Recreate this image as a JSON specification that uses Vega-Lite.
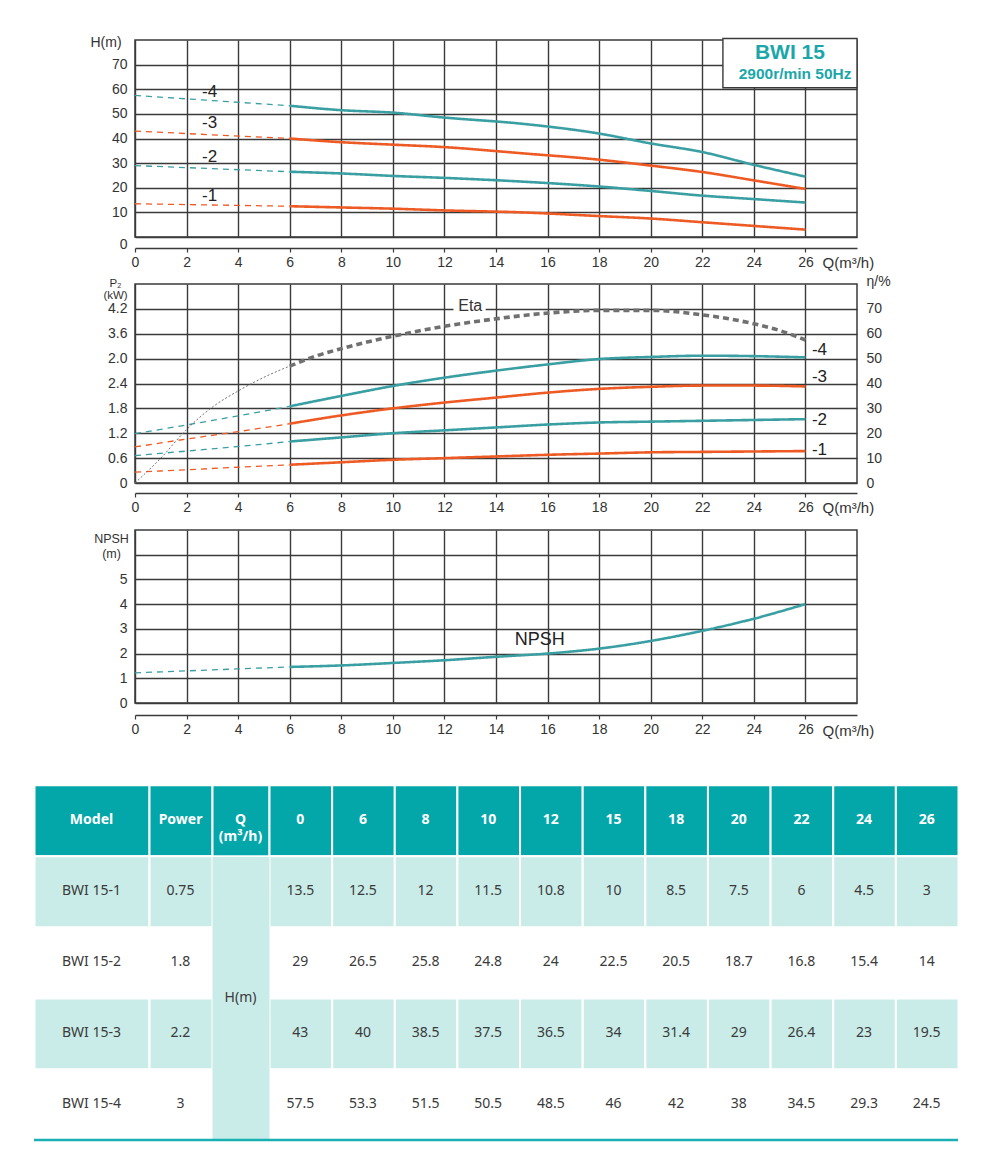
{
"$schema": "https://vega.github.io/schema/vega-lite/v6.json",
"background": "white",
"padding": {"left": 32, "top": 34, "right": 40, "bottom": 20},
"config": {
  "view": {"stroke": "#3a3a3a", "strokeWidth": 1.5},
  "axis": {"gridColor": "#3a3a3a", "gridWidth": 1.4, "gridOpacity": 1, "labelColor": "#333", "labelFont": "Liberation Sans", "labelFontSize": 14, "labelFlush": false, "labelOverlap": false, "titleFont": "Liberation Sans", "titleFontWeight": "normal", "titleColor": "#333", "titleFontSize": 14, "domainColor": "#3a3a3a", "tickColor": "#3a3a3a"},
  "text": {"font": "Liberation Sans"}
},
"datasets": {
  "hq": [
    {"m":"-1","p":"e","q":0,"h":13.5},{"m":"-1","p":"e","q":6,"h":12.5},
    {"m":"-1","p":"s","q":6,"h":12.5},{"m":"-1","p":"s","q":8,"h":12},{"m":"-1","p":"s","q":10,"h":11.5},{"m":"-1","p":"s","q":12,"h":10.8},{"m":"-1","p":"s","q":15,"h":10},{"m":"-1","p":"s","q":18,"h":8.5},{"m":"-1","p":"s","q":20,"h":7.5},{"m":"-1","p":"s","q":22,"h":6},{"m":"-1","p":"s","q":24,"h":4.5},{"m":"-1","p":"s","q":26,"h":3},
    {"m":"-2","p":"e","q":0,"h":29},{"m":"-2","p":"e","q":6,"h":26.5},
    {"m":"-2","p":"s","q":6,"h":26.5},{"m":"-2","p":"s","q":8,"h":25.8},{"m":"-2","p":"s","q":10,"h":24.8},{"m":"-2","p":"s","q":12,"h":24},{"m":"-2","p":"s","q":15,"h":22.5},{"m":"-2","p":"s","q":18,"h":20.5},{"m":"-2","p":"s","q":20,"h":18.7},{"m":"-2","p":"s","q":22,"h":16.8},{"m":"-2","p":"s","q":24,"h":15.4},{"m":"-2","p":"s","q":26,"h":14},
    {"m":"-3","p":"e","q":0,"h":43},{"m":"-3","p":"e","q":6,"h":40},
    {"m":"-3","p":"s","q":6,"h":40},{"m":"-3","p":"s","q":8,"h":38.5},{"m":"-3","p":"s","q":10,"h":37.5},{"m":"-3","p":"s","q":12,"h":36.5},{"m":"-3","p":"s","q":15,"h":34},{"m":"-3","p":"s","q":18,"h":31.4},{"m":"-3","p":"s","q":20,"h":29},{"m":"-3","p":"s","q":22,"h":26.4},{"m":"-3","p":"s","q":24,"h":23},{"m":"-3","p":"s","q":26,"h":19.5},
    {"m":"-4","p":"e","q":0,"h":57.5},{"m":"-4","p":"e","q":6,"h":53.3},
    {"m":"-4","p":"s","q":6,"h":53.3},{"m":"-4","p":"s","q":8,"h":51.5},{"m":"-4","p":"s","q":10,"h":50.5},{"m":"-4","p":"s","q":12,"h":48.5},{"m":"-4","p":"s","q":15,"h":46},{"m":"-4","p":"s","q":18,"h":42},{"m":"-4","p":"s","q":20,"h":38},{"m":"-4","p":"s","q":22,"h":34.5},{"m":"-4","p":"s","q":24,"h":29.3},{"m":"-4","p":"s","q":26,"h":24.5}
  ],
  "lab1": [{"q":2.6,"h":58.7,"t":"-4"},{"q":2.6,"h":46.1,"t":"-3"},{"q":2.6,"h":32.5,"t":"-2"},{"q":2.6,"h":16.5,"t":"-1"}],
  "pw": [
    {"m":"-1","p":"e","q":0,"k":0.26},{"m":"-1","p":"e","q":2,"k":0.32},{"m":"-1","p":"e","q":4,"k":0.38},{"m":"-1","p":"e","q":6,"k":0.44},
    {"m":"-1","p":"s","q":6,"k":0.44},{"m":"-1","p":"s","q":8,"k":0.5},{"m":"-1","p":"s","q":10,"k":0.56},{"m":"-1","p":"s","q":12,"k":0.6},{"m":"-1","p":"s","q":14,"k":0.64},{"m":"-1","p":"s","q":16,"k":0.68},{"m":"-1","p":"s","q":18,"k":0.71},{"m":"-1","p":"s","q":20,"k":0.74},{"m":"-1","p":"s","q":22,"k":0.75},{"m":"-1","p":"s","q":24,"k":0.76},{"m":"-1","p":"s","q":26,"k":0.77},
    {"m":"-2","p":"e","q":0,"k":0.66},{"m":"-2","p":"e","q":2,"k":0.77},{"m":"-2","p":"e","q":4,"k":0.88},{"m":"-2","p":"e","q":6,"k":1.0},
    {"m":"-2","p":"s","q":6,"k":1.0},{"m":"-2","p":"s","q":8,"k":1.1},{"m":"-2","p":"s","q":10,"k":1.2},{"m":"-2","p":"s","q":12,"k":1.27},{"m":"-2","p":"s","q":14,"k":1.34},{"m":"-2","p":"s","q":16,"k":1.41},{"m":"-2","p":"s","q":18,"k":1.46},{"m":"-2","p":"s","q":20,"k":1.48},{"m":"-2","p":"s","q":22,"k":1.5},{"m":"-2","p":"s","q":24,"k":1.52},{"m":"-2","p":"s","q":26,"k":1.54},
    {"m":"-3","p":"e","q":0,"k":0.87},{"m":"-3","p":"e","q":2,"k":1.06},{"m":"-3","p":"e","q":4,"k":1.24},{"m":"-3","p":"e","q":6,"k":1.43},
    {"m":"-3","p":"s","q":6,"k":1.43},{"m":"-3","p":"s","q":8,"k":1.63},{"m":"-3","p":"s","q":10,"k":1.8},{"m":"-3","p":"s","q":12,"k":1.94},{"m":"-3","p":"s","q":14,"k":2.06},{"m":"-3","p":"s","q":16,"k":2.18},{"m":"-3","p":"s","q":18,"k":2.27},{"m":"-3","p":"s","q":20,"k":2.32},{"m":"-3","p":"s","q":22,"k":2.35},{"m":"-3","p":"s","q":24,"k":2.35},{"m":"-3","p":"s","q":26,"k":2.33},
    {"m":"-4","p":"e","q":0,"k":1.19},{"m":"-4","p":"e","q":2,"k":1.4},{"m":"-4","p":"e","q":4,"k":1.62},{"m":"-4","p":"e","q":6,"k":1.85},
    {"m":"-4","p":"s","q":6,"k":1.85},{"m":"-4","p":"s","q":8,"k":2.1},{"m":"-4","p":"s","q":10,"k":2.34},{"m":"-4","p":"s","q":12,"k":2.54},{"m":"-4","p":"s","q":14,"k":2.71},{"m":"-4","p":"s","q":16,"k":2.86},{"m":"-4","p":"s","q":18,"k":2.99},{"m":"-4","p":"s","q":20,"k":3.04},{"m":"-4","p":"s","q":22,"k":3.07},{"m":"-4","p":"s","q":24,"k":3.06},{"m":"-4","p":"s","q":26,"k":3.03}
  ],
  "lab2": [{"q":26.25,"k":3.2,"t":"-4"},{"q":26.25,"k":2.56,"t":"-3"},{"q":26.25,"k":1.53,"t":"-2"},{"q":26.25,"k":0.79,"t":"-1"}],
  "eta": [
    {"p":"e","q":0,"e":0},{"p":"e","q":1,"e":10},{"p":"e","q":2,"e":21.5},{"p":"e","q":3,"e":30.5},{"p":"e","q":4,"e":37},{"p":"e","q":5,"e":42.5},{"p":"e","q":6,"e":47},
    {"p":"s","q":6,"e":47},{"p":"s","q":7,"e":51},{"p":"s","q":8,"e":54},{"p":"s","q":10,"e":59},{"p":"s","q":12,"e":63},{"p":"s","q":14,"e":66},{"p":"s","q":16,"e":68.3},{"p":"s","q":18,"e":69.4},{"p":"s","q":20,"e":69.4},{"p":"s","q":22,"e":67.6},{"p":"s","q":24,"e":64},{"p":"s","q":25,"e":61.3},{"p":"s","q":26,"e":57.5}
  ],
  "npsh": [
    {"p":"e","q":0,"n":1.22},{"p":"e","q":2,"n":1.3},{"p":"e","q":4,"n":1.38},{"p":"e","q":6,"n":1.46},
    {"p":"s","q":6,"n":1.46},{"p":"s","q":8,"n":1.52},{"p":"s","q":10,"n":1.62},{"p":"s","q":12,"n":1.73},{"p":"s","q":14,"n":1.87},{"p":"s","q":16,"n":2.0},{"p":"s","q":18,"n":2.2},{"p":"s","q":20,"n":2.51},{"p":"s","q":22,"n":2.92},{"p":"s","q":24,"n":3.41},{"p":"s","q":26,"n":4.0}
  ],
  "tbl": [
    {"c":"Model","i":0,"r":0,"t":"Model"},{"c":"Model","i":0,"r":1,"t":"BWI 15-1"},{"c":"Model","i":0,"r":2,"t":"BWI 15-2"},{"c":"Model","i":0,"r":3,"t":"BWI 15-3"},{"c":"Model","i":0,"r":4,"t":"BWI 15-4"},
    {"c":"Power","i":1,"r":0,"t":"Power"},{"c":"Power","i":1,"r":1,"t":"0.75"},{"c":"Power","i":1,"r":2,"t":"1.8"},{"c":"Power","i":1,"r":3,"t":"2.2"},{"c":"Power","i":1,"r":4,"t":"3"},
    {"c":"Q","i":2,"r":0,"t":"Q\n(m³/h)"},{"c":"Q","i":2,"r":1,"t":""},{"c":"Q","i":2,"r":2,"t":""},{"c":"Q","i":2,"r":3,"t":""},{"c":"Q","i":2,"r":4,"t":""},
    {"c":"0","i":3,"r":0,"t":"0"},{"c":"0","i":3,"r":1,"t":"13.5"},{"c":"0","i":3,"r":2,"t":"29"},{"c":"0","i":3,"r":3,"t":"43"},{"c":"0","i":3,"r":4,"t":"57.5"},
    {"c":"6","i":4,"r":0,"t":"6"},{"c":"6","i":4,"r":1,"t":"12.5"},{"c":"6","i":4,"r":2,"t":"26.5"},{"c":"6","i":4,"r":3,"t":"40"},{"c":"6","i":4,"r":4,"t":"53.3"},
    {"c":"8","i":5,"r":0,"t":"8"},{"c":"8","i":5,"r":1,"t":"12"},{"c":"8","i":5,"r":2,"t":"25.8"},{"c":"8","i":5,"r":3,"t":"38.5"},{"c":"8","i":5,"r":4,"t":"51.5"},
    {"c":"10","i":6,"r":0,"t":"10"},{"c":"10","i":6,"r":1,"t":"11.5"},{"c":"10","i":6,"r":2,"t":"24.8"},{"c":"10","i":6,"r":3,"t":"37.5"},{"c":"10","i":6,"r":4,"t":"50.5"},
    {"c":"12","i":7,"r":0,"t":"12"},{"c":"12","i":7,"r":1,"t":"10.8"},{"c":"12","i":7,"r":2,"t":"24"},{"c":"12","i":7,"r":3,"t":"36.5"},{"c":"12","i":7,"r":4,"t":"48.5"},
    {"c":"15","i":8,"r":0,"t":"15"},{"c":"15","i":8,"r":1,"t":"10"},{"c":"15","i":8,"r":2,"t":"22.5"},{"c":"15","i":8,"r":3,"t":"34"},{"c":"15","i":8,"r":4,"t":"46"},
    {"c":"18","i":9,"r":0,"t":"18"},{"c":"18","i":9,"r":1,"t":"8.5"},{"c":"18","i":9,"r":2,"t":"20.5"},{"c":"18","i":9,"r":3,"t":"31.4"},{"c":"18","i":9,"r":4,"t":"42"},
    {"c":"20","i":10,"r":0,"t":"20"},{"c":"20","i":10,"r":1,"t":"7.5"},{"c":"20","i":10,"r":2,"t":"18.7"},{"c":"20","i":10,"r":3,"t":"29"},{"c":"20","i":10,"r":4,"t":"38"},
    {"c":"22","i":11,"r":0,"t":"22"},{"c":"22","i":11,"r":1,"t":"6"},{"c":"22","i":11,"r":2,"t":"16.8"},{"c":"22","i":11,"r":3,"t":"26.4"},{"c":"22","i":11,"r":4,"t":"34.5"},
    {"c":"24","i":12,"r":0,"t":"24"},{"c":"24","i":12,"r":1,"t":"4.5"},{"c":"24","i":12,"r":2,"t":"15.4"},{"c":"24","i":12,"r":3,"t":"23"},{"c":"24","i":12,"r":4,"t":"29.3"},
    {"c":"26","i":13,"r":0,"t":"26"},{"c":"26","i":13,"r":1,"t":"3"},{"c":"26","i":13,"r":2,"t":"14"},{"c":"26","i":13,"r":3,"t":"19.5"},{"c":"26","i":13,"r":4,"t":"24.5"}
  ]
},
"vconcat": [
  {
    "width": 722, "height": 197,
    "layer": [
      {
        "data": {"name": "hq"},
        "mark": {"type": "line", "interpolate": "monotone"},
        "encoding": {
          "x": {"field": "q", "type": "quantitative", "scale": {"domain": [0, 28], "nice": false, "zero": false},
            "axis": {"values": [0,2,4,6,8,10,12,14,16,18,20,22,24,26], "tickCount": 30, "offset": 11, "grid": true, "domain": true, "domainWidth": 1.4, "ticks": true, "tickSize": 4, "tickWidth": 1.2, "labelPadding": 3, "title": "Q(m³/h)", "titleFontSize": 15, "titleX": 687, "titleY": 14, "titleAlign": "left", "titleBaseline": "middle", "titleAngle": 0}},
          "y": {"field": "h", "type": "quantitative", "scale": {"domain": [0, 80], "nice": false},
            "axis": {"values": [0,10,20,30,40,50,60,70], "tickCount": 30, "domain": false, "ticks": false, "labelPadding": 8, "labelOffset": {"condition": {"test": "datum.value == 0", "value": 7}, "value": 0}, "title": "H(m)", "titleAngle": 0, "titleX": -45, "titleY": 2, "titleAlign": "left", "titleBaseline": "middle"}},
          "color": {"field": "m", "type": "nominal", "scale": {"domain": ["-1","-2","-3","-4"], "range": ["#EE5A24","#3A9FA3","#EE5A24","#3A9FA3"]}, "legend": null},
          "detail": {"field": "p"},
          "strokeDash": {"field": "p", "type": "nominal", "scale": {"domain": ["e","s"], "range": [[6,5],[1,0]]}, "legend": null},
          "strokeWidth": {"field": "p", "type": "nominal", "scale": {"domain": ["e","s"], "range": [1.3, 2.6]}, "legend": null}
        }
      },
      {
        "data": {"name": "lab1"},
        "mark": {"type": "text", "align": "left", "baseline": "middle", "fontSize": 17, "color": "#222"},
        "encoding": {"x": {"field": "q", "type": "quantitative"}, "y": {"field": "h", "type": "quantitative"}, "text": {"field": "t"}}
      },
      {
        "data": {"values": [{"t": "box"}]},
        "mark": {"type": "rect", "fill": "white", "stroke": "#3a3a3a", "strokeWidth": 1.4},
        "encoding": {"x": {"datum": 22.8}, "x2": {"datum": 28}, "y": {"datum": 60.6}, "y2": {"datum": 80.6}}
      },
      {
        "data": {"values": [{"q": 25.4, "h": 74.8, "t": "BWI 15", "s": 21}, {"q": 25.6, "h": 66.3, "t": "2900r/min 50Hz", "s": 15.5}]},
        "mark": {"type": "text", "align": "center", "baseline": "middle", "fontWeight": "bold", "color": "#1BA7AA"},
        "encoding": {"x": {"field": "q", "type": "quantitative"}, "y": {"field": "h", "type": "quantitative"}, "text": {"field": "t"}, "size": {"field": "s", "type": "quantitative", "scale": null}}
      }
    ]
  },
  {
    "width": 722, "height": 199,
    "resolve": {"scale": {"y": "independent"}},
    "layer": [
      {
        "layer": [
          {
            "data": {"name": "pw"},
            "mark": {"type": "line", "interpolate": "monotone"},
            "encoding": {
              "x": {"field": "q", "type": "quantitative", "scale": {"domain": [0, 28], "nice": false, "zero": false},
                "axis": {"values": [0,2,4,6,8,10,12,14,16,18,20,22,24,26], "tickCount": 30, "offset": 10, "grid": true, "domain": true, "domainWidth": 1.4, "ticks": true, "tickSize": 4, "tickWidth": 1.2, "labelPadding": 3, "title": "Q(m³/h)", "titleFontSize": 15, "titleX": 687, "titleY": 14, "titleAlign": "left", "titleBaseline": "middle", "titleAngle": 0}},
              "y": {"field": "k", "type": "quantitative", "scale": {"domain": [0, 4.8], "nice": false},
                "axis": {"values": [0,0.6,1.2,1.8,2.4,3.0,3.6,4.2], "tickCount": 30, "labelExpr": "datum.value == 0 ? '0' : abs(datum.value - 3) < 0.01 ? '2.0' : format(datum.value, '.1f')", "domain": false, "ticks": false, "labelPadding": 8, "title": ["P₂", "(kW)"], "titleAngle": 0, "titleX": -20, "titleY": -7, "titleAlign": "center", "titleBaseline": "top", "titleFontSize": 11.5, "titleLineHeight": 12.5}},
              "color": {"field": "m", "type": "nominal", "scale": {"domain": ["-1","-2","-3","-4"], "range": ["#EE5A24","#3A9FA3","#EE5A24","#3A9FA3"]}, "legend": null},
              "detail": {"field": "p"},
              "strokeDash": {"field": "p", "type": "nominal", "scale": {"domain": ["e","s"], "range": [[4,3],[1,0]]}, "legend": null},
              "strokeWidth": {"field": "p", "type": "nominal", "scale": {"domain": ["e","s"], "range": [1.2, 2.6]}, "legend": null}
            }
          },
          {
            "data": {"name": "lab2"},
            "mark": {"type": "text", "align": "left", "baseline": "middle", "fontSize": 17, "color": "#222"},
            "encoding": {"x": {"field": "q", "type": "quantitative"}, "y": {"field": "k", "type": "quantitative"}, "text": {"field": "t"}}
          }
        ]
      },
      {
        "layer": [
          {
            "data": {"name": "eta"},
            "transform": [{"filter": "datum.p == 'e'"}],
            "mark": {"type": "line", "interpolate": "monotone", "color": "#707070", "strokeWidth": 1, "strokeDash": [2, 2]},
            "encoding": {
              "x": {"field": "q", "type": "quantitative"},
              "y": {"field": "e", "type": "quantitative", "scale": {"domain": [0, 80], "nice": false},
                "axis": {"orient": "right", "values": [0,10,20,30,40,50,60,70], "tickCount": 30, "grid": false, "domain": false, "ticks": false, "labelPadding": 9, "title": "η/%", "titleAngle": 0, "titleX": 9, "titleY": -3, "titleAlign": "left", "titleBaseline": "middle"}}
            }
          },
          {
            "data": {"name": "eta"},
            "transform": [{"filter": "datum.p == 's'"}],
            "mark": {"type": "line", "interpolate": "monotone", "color": "#707070", "strokeWidth": 3.6, "strokeDash": [6, 4]},
            "encoding": {"x": {"field": "q", "type": "quantitative"}, "y": {"field": "e", "type": "quantitative"}}
          },
          {
            "data": {"values": [{"t": "bg"}]},
            "mark": {"type": "rect", "fill": "white"},
            "encoding": {"x": {"datum": 12.35}, "x2": {"datum": 13.6}, "y": {"datum": 68}, "y2": {"datum": 74}}
          },
          {
            "data": {"values": [{"q": 13.0, "e": 71.3, "t": "Eta"}]},
            "mark": {"type": "text", "align": "center", "baseline": "middle", "fontSize": 16, "color": "#333"},
            "encoding": {"x": {"field": "q", "type": "quantitative"}, "y": {"field": "e", "type": "quantitative"}, "text": {"field": "t"}}
          }
        ]
      }
    ]
  },
  {
    "width": 722, "height": 173,
    "layer": [
      {
        "data": {"name": "npsh"},
        "mark": {"type": "line", "interpolate": "monotone", "color": "#3A9FA3"},
        "encoding": {
          "x": {"field": "q", "type": "quantitative", "scale": {"domain": [0, 28], "nice": false, "zero": false},
            "axis": {"values": [0,2,4,6,8,10,12,14,16,18,20,22,24,26], "tickCount": 30, "offset": 12, "grid": true, "domain": true, "domainWidth": 1.4, "ticks": true, "tickSize": 4, "tickWidth": 1.2, "labelPadding": 3, "title": "Q(m³/h)", "titleFontSize": 15, "titleX": 687, "titleY": 15, "titleAlign": "left", "titleBaseline": "middle", "titleAngle": 0}},
          "y": {"field": "n", "type": "quantitative", "scale": {"domain": [0, 7], "nice": false},
            "axis": {"values": [0,1,2,3,4,5,6], "tickCount": 30, "labelExpr": "datum.value == 6 ? '' : format(datum.value, 'd')", "domain": false, "ticks": false, "labelPadding": 8, "title": ["NPSH", "(m)"], "titleAngle": 0, "titleX": -24, "titleY": 2, "titleAlign": "center", "titleBaseline": "top", "titleFontSize": 12.5, "titleLineHeight": 15}},
          "detail": {"field": "p"},
          "strokeDash": {"field": "p", "type": "nominal", "scale": {"domain": ["e","s"], "range": [[7,5],[1,0]]}, "legend": null},
          "strokeWidth": {"field": "p", "type": "nominal", "scale": {"domain": ["e","s"], "range": [1.4, 2.8]}, "legend": null}
        }
      },
      {
        "data": {"values": [{"q": 15.7, "n": 2.54, "t": "NPSH"}]},
        "mark": {"type": "text", "align": "center", "baseline": "middle", "fontSize": 18, "color": "#222"},
        "encoding": {"x": {"field": "q", "type": "quantitative"}, "y": {"field": "n", "type": "quantitative"}, "text": {"field": "t"}}
      }
    ]
  },
  {
    "width": 924, "height": 390, "view": {"stroke": null},
    "layer": [
      {"data": {"name": "tbl"}, "transform": [{"filter": "datum.i != 2 || datum.r == 0"}], "mark": {"type": "rect", "stroke": "white", "strokeWidth": 2},
       "encoding": {
         "x": {"field": "i", "type": "quantitative", "bin": {"step": 1, "extent": [0, 14]}, "scale": {"domain": [0, 1, 2, 3, 14], "range": [0, 115, 178, 235, 924], "nice": false, "zero": false}, "axis": null},
         "y": {"field": "r", "type": "quantitative", "bin": {"step": 1, "extent": [0, 5]}, "scale": {"domain": [-0.49, 5], "reverse": true, "nice": false, "zero": false}, "axis": null},
         "fill": {"condition": [{"test": "datum.r == 0", "value": "#04A7A9"}, {"test": "datum.r == 1 || datum.r == 3", "value": "#C9ECE8"}], "value": "#FFFFFF"}}},
      {"data": {"name": "tbl"}, "transform": [{"filter": "datum.i == 2 && datum.r == 1"}], "mark": {"type": "rect", "fill": "#C9ECE8"},
       "encoding": {
         "x": {"field": "i", "type": "quantitative", "bin": {"step": 1, "extent": [0, 14]}},
         "y": {"datum": 1.015}, "y2": {"datum": 5}}},
      {"data": {"name": "tbl"}, "transform": [{"filter": "datum.r == 0"}], "mark": {"type": "text", "font": "Noto Sans", "fontSize": 14, "fontWeight": "bold", "color": "white", "lineBreak": "\n", "lineHeight": 17},
       "encoding": {
         "x": {"field": "i", "type": "quantitative", "bin": {"step": 1, "extent": [0, 14]}},
         "y": {"field": "r", "type": "quantitative", "bin": {"step": 1, "extent": [0, 5]}},
         "text": {"field": "t"}}},
      {"data": {"name": "tbl"}, "transform": [{"filter": "datum.r > 0"}], "mark": {"type": "text", "font": "Noto Sans", "fontSize": 14, "color": "#3a3a3a"},
       "encoding": {
         "x": {"field": "i", "type": "quantitative", "bin": {"step": 1, "extent": [0, 14]}},
         "y": {"field": "r", "type": "quantitative", "bin": {"step": 1, "extent": [0, 5]}},
         "text": {"field": "t"}}},
      {"data": {"values": [{"t": "H(m)"}]}, "mark": {"type": "text", "font": "Noto Sans", "fontSize": 14, "color": "#3a3a3a"},
       "encoding": {"x": {"datum": 2.5}, "y": {"datum": 3}, "text": {"field": "t"}}},
      {"data": {"values": [{"t": "line"}]}, "mark": {"type": "rule", "color": "#19B0B4", "strokeWidth": 2.5},
       "encoding": {"y": {"datum": 5}}}
    ]
  }
],
"spacing": 47,
"bounds": "flush",
"center": true
}
